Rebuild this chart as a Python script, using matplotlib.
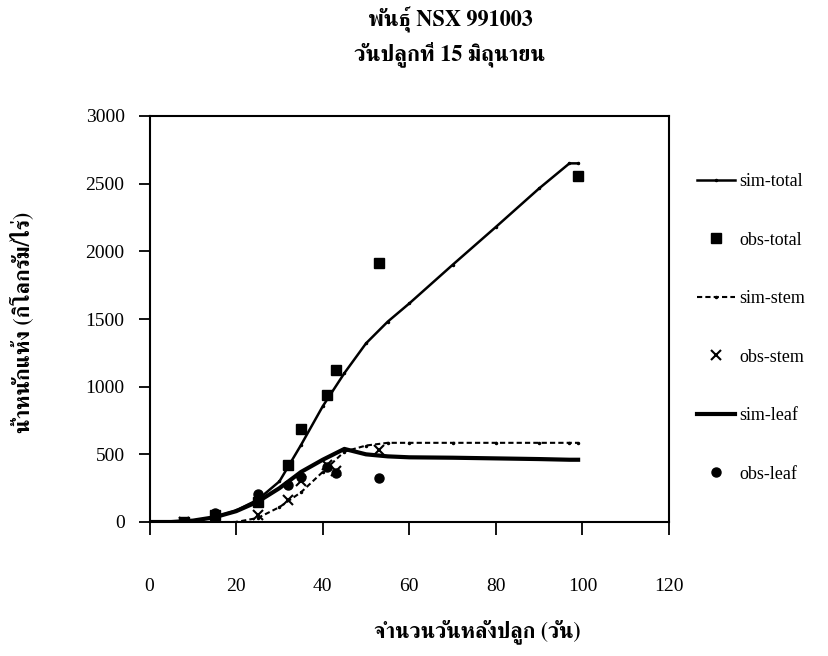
import matplotlib
matplotlib.use("Agg")
import matplotlib.pyplot as plt
from matplotlib import font_manager
from matplotlib.ft2font import FT2Font

# simulated values (days after planting)
sim_days = [0, 5, 10, 15, 20, 25, 30, 35, 40, 45, 50, 55, 60, 70, 80, 90, 97, 99]
sim_total = [0, 0, 10, 35, 85, 165, 300, 570, 855, 1100, 1320, 1480, 1615, 1900, 2180, 2465, 2650, 2650]
sim_stem = [0, 0, 0, 0, 0, 30, 110, 220, 370, 520, 565, 585, 585, 585, 585, 585, 585, 585]
sim_leaf = [0, 0, 10, 35, 80, 150, 250, 370, 460, 540, 500, 485, 478, 475, 470, 465, 460, 460]

# observed values
obs_days = [8, 15, 25, 32, 35, 41, 43, 53, 99]
obs_total = [0, 50, 150, 420, 690, 940, 1120, 1915, 2560]
obs_part_days = [8, 15, 25, 32, 35, 41, 43, 53]
obs_stem = [0, 10, 50, 160, 300, 420, 380, 530]
obs_leaf = [0, 65, 210, 275, 330, 410, 365, 325]

title_lines = ["พันธุ์ NSX 991003", "วันปลูกที่ 15 มิถุนายน"]
x_label = "จำนวนวันหลังปลูก (วัน)"
y_label = "น้ำหนักแห้ง (กิโลกรัม/ไร่)"
x_ticks = [0, 20, 40, 60, 80, 100, 120]
y_ticks = [0, 500, 1000, 1500, 2000, 2500, 3000]


def find_thai_font():
    """Look for an installed font that has Thai glyphs, serif first."""
    found = []
    for f in font_manager.fontManager.ttflist:
        try:
            cmap = FT2Font(f.fname).get_charmap()
        except Exception:
            continue
        if 0x0E01 in cmap and 0x0E19 in cmap:
            found.append(f.name)
    for pref in ["Norasi", "Serif", "Tlwg", "Loma", "Garuda"]:
        for name in found:
            if pref in name:
                return name
    return found[0] if found else None


thai = find_thai_font()
serif = ["Liberation Serif", "DejaVu Serif"]
thai_fam = ([thai] if thai else []) + serif
plt.rcParams["font.family"] = serif

fig = plt.figure(figsize=(8.29, 6.56), dpi=100)
ax = fig.add_axes([149.6 / 829, 1 - 522 / 656, 519.4 / 829, 406 / 656])

ax.plot(sim_days, sim_total, "-", color="black", lw=1.8, marker=".", ms=3, label="sim-total")
ax.plot(obs_days, obs_total, "s", color="black", ms=6.5, label="obs-total")
ax.plot(sim_days, sim_stem, "--", color="black", lw=1.5, marker=".", ms=3,
        dashes=(2.5, 1.5), label="sim-stem")
ax.plot(obs_part_days, obs_stem, "x", color="black", ms=7, mew=1.5, label="obs-stem")
ax.plot(sim_days, sim_leaf, "-", color="black", lw=3, label="sim-leaf")
ax.plot(obs_part_days, obs_leaf, "o", color="black", ms=6.5, label="obs-leaf")

ax.set_xlim(0, 120)
ax.set_ylim(0, 3000)
ax.set_xticks(x_ticks)
ax.set_yticks(y_ticks)
ax.tick_params(axis="y", direction="out", length=8, width=1.3, pad=10, labelsize=14)
ax.tick_params(axis="x", direction="out", length=9, width=1.3, pad=31, labelsize=14)
for s in ax.spines.values():
    s.set_linewidth(1.5)

for i, t in enumerate(title_lines):
    fig.text(450 / 829, 1 - (20 + 34 * i) / 656, t, ha="center", va="center",
             fontsize=16, fontweight="bold", family=thai_fam)
fig.text(477 / 829, 1 - 632 / 656, x_label, ha="center", va="center",
         fontsize=15.5, fontweight="bold", family=thai_fam)
fig.text(22 / 829, 1 - 322 / 656, y_label, ha="center", va="center", rotation=90,
         fontsize=15.5, fontweight="bold", family=thai_fam)

fig.legend(loc="center left", bbox_to_anchor=(681 / 829, 1 - 328 / 656), frameon=False,
           fontsize=13, labelspacing=2.3, handlelength=2.1, handletextpad=0.25)

fig.savefig("out.png", dpi=100)
